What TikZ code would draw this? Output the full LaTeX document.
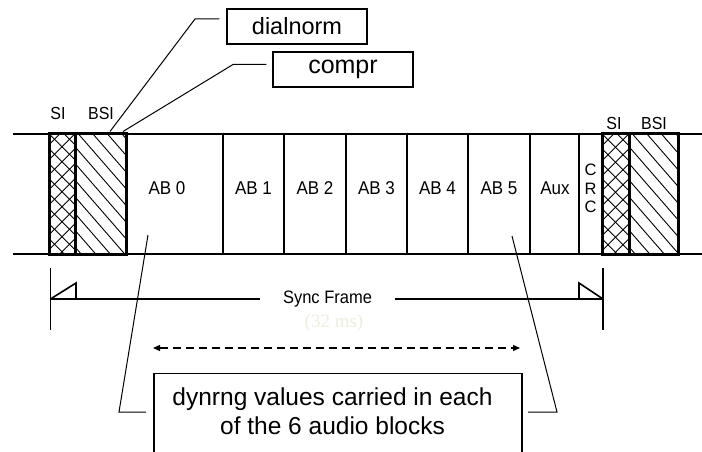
\documentclass[tikz,border=0pt]{standalone}
\usepackage{graphicx}
\usepackage{fontspec}
\setmainfont{Liberation Sans}
\newfontfamily\timesface{Liberation Serif}
\usetikzlibrary{arrows.meta}
\definecolor{faint}{RGB}{238,237,222}
% slightly taller lettering for the small labels
\newcommand{\tallbox}[1]{\scalebox{1}[1.09]{#1}}
\begin{document}
\begin{tikzpicture}[x=1pt,y=-1pt,
  rail/.style={line width=2pt},
  divider/.style={line width=1.7pt},
  hdrbox/.style={draw,line width=3pt,inner sep=0pt,minimum height=120.5pt},
  hatchline/.style={line width=0.9pt},
  leader/.style={line width=1pt},
  callout/.style={draw,line width=1.1pt,minimum width=140pt,minimum height=35pt,inner sep=0pt},
  blklabel/.style={inner sep=0pt,font=\fontsize{17}{20}\selectfont},
  fldlabel/.style={inner sep=0pt,font=\fontsize{16}{19}\selectfont},
  dim/.style={line width=1.6pt},
  dasharrow/.style={line width=1.3pt,dash pattern=on 8pt off 5pt,{Triangle[length=7pt,width=6pt]}-{Triangle[length=7pt,width=6pt]}},
]
\useasboundingbox (0,0) rectangle (702,452);
\clip (0,0) rectangle (702,452);
\fill[white] (0,0) rectangle (702,452);

% cross hatching of the SI fields
\begin{scope}
  \clip (49,133.5) rectangle (75,254);
  \foreach \k in {-3,...,8} {
    \draw[hatchline] (49,133.7+15*\k) -- (75,159.7+15*\k);
    \draw[hatchline] (49,159.7+15*\k) -- (75,133.7+15*\k);
  }
\end{scope}
\begin{scope}
  \clip (602,133.5) rectangle (629,254);
  \foreach \k in {-3,...,8} {
    \draw[hatchline] (602,133.7+15*\k) -- (629,160.7+15*\k);
    \draw[hatchline] (602,160.7+15*\k) -- (629,133.7+15*\k);
  }
\end{scope}
% single hatching of the BSI fields
\begin{scope}
  \clip (75,133.5) rectangle (126,254);
  \foreach \k in {-5,...,8}
    \draw[hatchline] (75,130+16.7*\k) -- (135,199+16.7*\k);
\end{scope}
\begin{scope}
  \clip (629,133.5) rectangle (678,254);
  \foreach \k in {-5,...,8}
    \draw[hatchline] (629,130+16.7*\k) -- (689,199+16.7*\k);
\end{scope}

% the bit stream rails and block dividers
\draw[rail] (13,133.5) -- (702,133.5);
\draw[rail] (13,254) -- (702,254);
\foreach \x in {223,284,346,407,468,530,579}
  \draw[divider] (\x,133.5) -- (\x,254);

% header fields
\node[hdrbox,minimum width=26pt] (si1) at (62,193.75) {};
\node[hdrbox,minimum width=51pt] (bsi1) at (100.5,193.75) {};
\node[hdrbox,minimum width=27pt] (si2) at (615.5,193.75) {};
\node[hdrbox,minimum width=49pt] (bsi2) at (653.5,193.75) {};

\node[fldlabel] (si1lbl) at (58,113) {\tallbox{SI}};
\node[fldlabel] (bsi1lbl) at (101,113) {\tallbox{BSI}};
\node[fldlabel] (si2lbl) at (614,123) {\tallbox{SI}};
\node[fldlabel] (bsi2lbl) at (654,123) {\tallbox{BSI}};

% block labels
\node[blklabel] (ab0) at (167,188) {\tallbox{AB 0}};
\node[blklabel] (ab1) at (253.5,188) {\tallbox{AB 1}};
\node[blklabel] (ab2) at (315,188) {\tallbox{AB 2}};
\node[blklabel] (ab3) at (376.5,188) {\tallbox{AB 3}};
\node[blklabel] (ab4) at (437.5,188) {\tallbox{AB 4}};
\node[blklabel] (ab5) at (499,188) {\tallbox{AB 5}};
\node[blklabel] (aux) at (555,188) {\tallbox{Aux}};
\node[blklabel,align=center,font=\fontsize{16.5}{18.5}\selectfont] (crc) at (590.5,188.5) {C\\R\\C};

% parameter call-outs
\node[callout,font=\fontsize{23.5}{26}\selectfont] (dial) at (297,26.5) {dialnorm};
\node[callout,font=\fontsize{25}{28}\selectfont] (compr) at (343,69.5) {compr};
\coordinate (dialfoot) at (110,131.5);
\coordinate (comprfoot) at (123,131.5);
\coordinate (dialknee) at (195,19);
\coordinate (comprknee) at (233,64.5);
\draw[leader] (dialfoot) -- (dialknee) -- ([shift={(-7,-7.5)}]dial.west);
\draw[leader] (comprfoot) -- (comprknee) -- ([shift={(-6,-5)}]compr.west);

% sync frame dimension
\coordinate (ltop) at (50.5,268);
\coordinate (lbot) at (50.5,330);
\coordinate (lmid) at (50.5,299);
\coordinate (rtop) at (603,268);
\coordinate (rbot) at (603,330);
\coordinate (rmid) at (603,299);
\draw[dim] (ltop) -- (lbot);
\draw[dim] (rtop) -- (rbot);
\node[inner xsep=22.5pt,inner ysep=0pt,font=\fontsize{16.5}{19}\selectfont] (sync) at (327.5,299) {\tallbox{Sync Frame}};
\draw[dim] (lmid) -- (sync.west);
\draw[dim] (sync.east) -- (rmid);
\draw[dim,line join=miter] (lmid) -- (76,283) -- (76,299);
\draw[dim,line join=miter] (rmid) -- (579,283) -- (579,299);
\node[text=faint,inner sep=0pt,font=\timesface\fontsize{19}{22}\selectfont] (dur) at (334,323) {(32 ms)};

% audio block span
\coordinate (spanl) at (153,348);
\coordinate (spanr) at (520,348);
\draw[dasharrow] (spanl) -- (spanr);

% dynrng call-out
\node[draw,line width=1.1pt,minimum width=368pt,minimum height=120pt,inner sep=0pt,anchor=north] (dynbox) at (338,373) {};
\node[inner sep=0pt,align=center,font=\fontsize{24.5}{29}\selectfont] (dyntext) at (332.5,411.5) {dynrng values carried in each\\of the 6 audio blocks};
\coordinate (ab0foot) at (148,235);
\coordinate (ab5foot) at (512,236);
\coordinate (lknee) at (119,412);
\coordinate (rknee) at (557,412);
\draw[leader] (ab0foot) -- (lknee) -- ++(27,0);
\draw[leader] (ab5foot) -- (rknee) -- ++(-29,0);
\end{tikzpicture}
\end{document}
